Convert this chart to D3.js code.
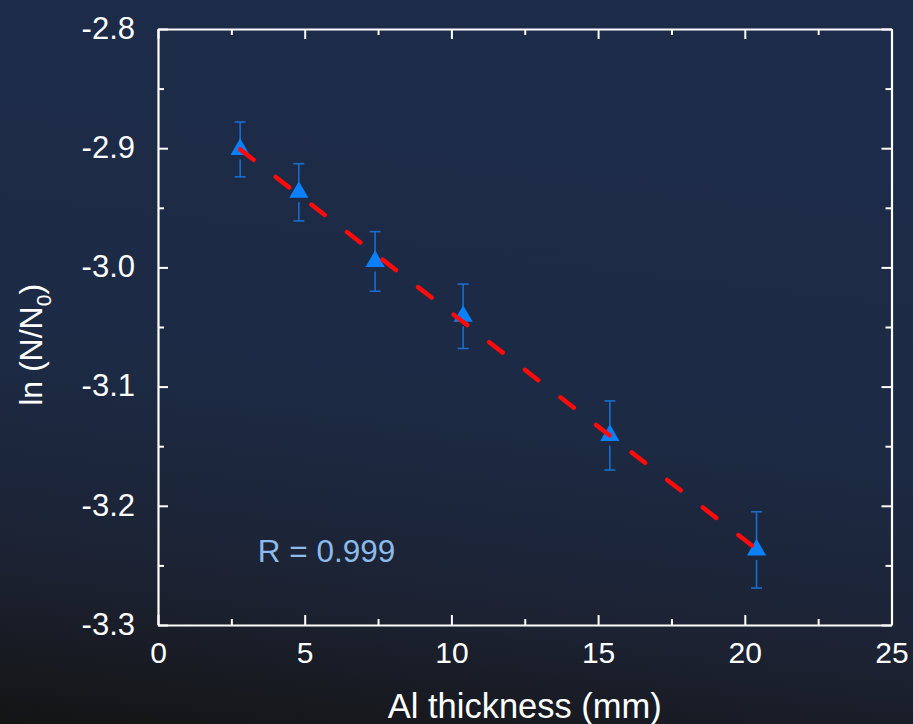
<!DOCTYPE html>
<html>
<head>
<meta charset="utf-8">
<script src="https://cdn.jsdelivr.net/npm/d3@7"></script>
<style>
  html, body { margin: 0; padding: 0; background: #151515; }
  svg { display: block; font-family: "Liberation Sans", Arial, sans-serif; }
</style>
</head>
<body>
<svg id="chart" width="913" height="724"></svg>
<script>
// Aluminium absorber thickness (mm) and measured ln(N/N0) with uncertainties
const thickness = [2.8, 4.8, 7.4, 10.4, 15.4, 20.4];
const lnRatio   = [-2.901, -2.937, -2.995, -3.041, -3.141, -3.237];
const lnError   = [0.023, 0.024, 0.025, 0.027, 0.029, 0.032];

const xTicks = [0, 5, 10, 15, 20, 25];
const yTicks = [-2.8, -2.9, -3.0, -3.1, -3.2, -3.3];
const xMinorTicks = [2.5, 7.5, 12.5, 17.5, 22.5];
const yMinorTicks = [-2.85, -2.95, -3.05, -3.15, -3.25];
const yTickLabels = ["-2.8", "-2.9", "-3.0", "-3.1", "-3.2", "-3.3"];
const fitLabel = "R = 0.999";

const svg = d3.select("#chart");
const W = 913, H = 724;
const m = { left: 158, right: 913 - 891.5, top: 29, bottom: 724 - 625 };

// background
const defs = svg.append("defs");
const grad = defs.append("linearGradient")
  .attr("id", "bg").attr("x1", 0.15).attr("y1", 0).attr("x2", 0).attr("y2", 1);
grad.append("stop").attr("offset", 0).attr("stop-color", "#1c2b48");
grad.append("stop").attr("offset", 0.5).attr("stop-color", "#1c2a44");
grad.append("stop").attr("offset", 0.78).attr("stop-color", "#1c2232");
grad.append("stop").attr("offset", 1).attr("stop-color", "#141414");
svg.append("rect").attr("width", W).attr("height", H).attr("fill", "url(#bg)");

const x = d3.scaleLinear().domain([0, 25]).range([m.left, W - m.right]);
const y = d3.scaleLinear().domain([-3.3, -2.8]).range([H - m.bottom, m.top]);

const white = "#ffffff";

// axes on all four sides, ticks pointing inward
function frameAxis(axis, transform) {
  const g = svg.append("g").attr("transform", transform).call(axis);
  g.select(".domain").attr("stroke", white).attr("stroke-width", 2.2);
  g.selectAll(".tick line").attr("stroke", white).attr("stroke-width", 2);
  g.selectAll(".tick text").attr("fill", white).style("font-size", "30px")
    .attr("font-family", "Liberation Sans, Arial, sans-serif");
  return g;
}
function minorAxis(axis, transform) {
  const g = svg.append("g").attr("transform", transform).call(axis);
  g.select(".domain").remove();
  g.selectAll(".tick line").attr("stroke", white).attr("stroke-width", 2);
  g.selectAll(".tick text").remove();
}

frameAxis(d3.axisBottom(x).tickValues(xTicks).tickSizeInner(-10).tickSizeOuter(0)
  .tickPadding(17).tickFormat(d3.format("d")), `translate(0,${y(-3.3)})`);
frameAxis(d3.axisTop(x).tickValues(xTicks).tickSizeInner(-10).tickSizeOuter(0).tickFormat(""),
  `translate(0,${y(-2.8)})`);
const yL = frameAxis(d3.axisLeft(y).tickValues(yTicks).tickSizeInner(-10).tickSizeOuter(0)
  .tickPadding(23).tickFormat((d, i) => yTickLabels[i]), `translate(${x(0)},0)`);
frameAxis(d3.axisRight(y).tickValues(yTicks).tickSizeInner(-10).tickSizeOuter(0).tickFormat(""),
  `translate(${x(25)},0)`);

minorAxis(d3.axisBottom(x).tickValues(xMinorTicks).tickSizeInner(-6).tickSizeOuter(0), `translate(0,${y(-3.3)})`);
minorAxis(d3.axisTop(x).tickValues(xMinorTicks).tickSizeInner(-6).tickSizeOuter(0), `translate(0,${y(-2.8)})`);
minorAxis(d3.axisLeft(y).tickValues(yMinorTicks).tickSizeInner(-6).tickSizeOuter(0), `translate(${x(0)},0)`);
minorAxis(d3.axisRight(y).tickValues(yMinorTicks).tickSizeInner(-6).tickSizeOuter(0), `translate(${x(25)},0)`);

yL.selectAll(".tick text").attr("dy", "0.3em").style("font-size", "31px");

// data rows
const rows = thickness.map((t, i) => ({ t, v: lnRatio[i], e: lnError[i] }));

// error bars
const errColor = "#1a6dcc";
const eb = svg.append("g").attr("stroke", errColor).attr("stroke-width", 1.6);
rows.forEach(d => {
  const cx = x(d.t), cy = y(d.v);
  eb.append("line").attr("x1", cx).attr("x2", cx).attr("y1", y(d.v + d.e)).attr("y2", cy);
  eb.append("line").attr("x1", cx).attr("x2", cx).attr("y1", cy + 10).attr("y2", y(d.v - d.e));
  eb.append("line").attr("x1", cx - 5.5).attr("x2", cx + 5.5).attr("y1", y(d.v + d.e)).attr("y2", y(d.v + d.e));
  eb.append("line").attr("x1", cx - 5.5).attr("x2", cx + 5.5).attr("y1", y(d.v - d.e)).attr("y2", y(d.v - d.e));
});

// triangle markers
svg.append("g").selectAll("path").data(rows).join("path")
  .attr("d", d3.symbol(d3.symbolTriangle, 160))
  .attr("transform", d => `translate(${x(d.t)},${y(d.v)})`)
  .attr("fill", "#0a80fa");

// least-squares linear fit
const mx = d3.mean(thickness), my = d3.mean(lnRatio);
const sxy = d3.sum(thickness, (t, i) => (t - mx) * (lnRatio[i] - my));
const sxx = d3.sum(thickness, t => (t - mx) * (t - mx));
const slope = sxy / sxx, intercept = my - slope * mx;
const fitX = d3.extent(thickness);
svg.append("path")
  .datum(fitX.map(t => [t, intercept + slope * t]))
  .attr("d", d3.line().x(d => x(d[0])).y(d => y(d[1])))
  .attr("fill", "none").attr("stroke", "#ff0a0a").attr("stroke-width", 4.5)
  .attr("stroke-linecap", "round").attr("stroke-dasharray", "17,28");

// correlation label
svg.append("text").attr("x", x(3.4)).attr("y", 562)
  .attr("fill", "#8cbbeb").style("font-size", "31.5px").text(fitLabel);

// axis titles
svg.append("text").attr("x", x(12.5)).attr("y", 718).attr("text-anchor", "middle")
  .attr("fill", white).style("font-size", "34.5px").text("Al thickness (mm)");

const yt = svg.append("text").attr("transform", `translate(42,${y(-3.065)}) rotate(-90)`)
  .attr("text-anchor", "middle").attr("fill", white).style("font-size", "32px");
yt.append("tspan").text("ln (N/N");
yt.append("tspan").attr("dy", 9).style("font-size", "21px").text("0");
yt.append("tspan").attr("dy", -9).text(")");
</script>
</body>
</html>
